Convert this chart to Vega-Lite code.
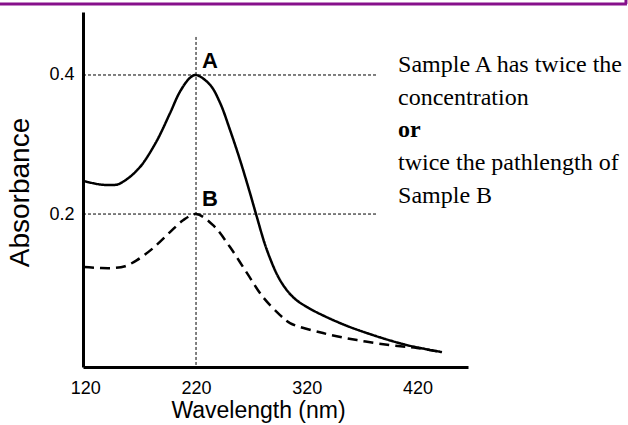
{
  "$schema": "https://vega.github.io/schema/vega-lite/v6.json",
  "width": 385,
  "height": 355,
  "autosize": "none",
  "padding": {"left": 83, "top": 12, "right": 160, "bottom": 58},
  "background": "white",
  "config": {"view": {"stroke": null}},
  "datasets": {
    "curves": [
      {"x": 118.8, "y": 0.2475, "s": "A"}, {"x": 133.3, "y": 0.2425, "s": "A"}, {"x": 144.1, "y": 0.2417, "s": "A"},
      {"x": 149.5, "y": 0.2427, "s": "A"}, {"x": 155.0, "y": 0.2474, "s": "A"}, {"x": 160.4, "y": 0.2536, "s": "A"},
      {"x": 166.7, "y": 0.263, "s": "A"}, {"x": 172.1, "y": 0.273, "s": "A"},
      {"x": 184.8, "y": 0.306, "s": "A"}, {"x": 196.5, "y": 0.345, "s": "A"}, {"x": 205.5, "y": 0.376, "s": "A"},
      {"x": 214.6, "y": 0.396, "s": "A"}, {"x": 220, "y": 0.4, "s": "A"}, {"x": 232.6, "y": 0.386, "s": "A"},
      {"x": 241.7, "y": 0.36, "s": "A"}, {"x": 250.7, "y": 0.321, "s": "A"}, {"x": 259.7, "y": 0.278, "s": "A"},
      {"x": 268.8, "y": 0.23, "s": "A"}, {"x": 274.2, "y": 0.2, "s": "A"}, {"x": 284.1, "y": 0.148, "s": "A"},
      {"x": 295.9, "y": 0.105, "s": "A"}, {"x": 307.6, "y": 0.0806, "s": "A"}, {"x": 320.3, "y": 0.0662, "s": "A"},
      {"x": 350.1, "y": 0.0432, "s": "A"}, {"x": 379.9, "y": 0.0259, "s": "A"}, {"x": 410.6, "y": 0.0115, "s": "A"},
      {"x": 442.2, "y": 0.0014, "s": "A"},
      {"x": 118.8, "y": 0.1237, "s": "B"}, {"x": 133.3, "y": 0.1223, "s": "B"}, {"x": 145.0, "y": 0.1223, "s": "B"},
      {"x": 155.9, "y": 0.125, "s": "B"}, {"x": 166.7, "y": 0.1338, "s": "B"}, {"x": 181.2, "y": 0.151, "s": "B"},
      {"x": 196.5, "y": 0.174, "s": "B"}, {"x": 208.3, "y": 0.191, "s": "B"}, {"x": 220, "y": 0.2, "s": "B"},
      {"x": 235.4, "y": 0.184, "s": "B"}, {"x": 250.7, "y": 0.1525, "s": "B"}, {"x": 266.1, "y": 0.115, "s": "B"},
      {"x": 280.5, "y": 0.0806, "s": "B"}, {"x": 295.9, "y": 0.0547, "s": "B"}, {"x": 304.9, "y": 0.0432, "s": "B"},
      {"x": 334.7, "y": 0.0288, "s": "B"}, {"x": 365.4, "y": 0.0187, "s": "B"}, {"x": 395.2, "y": 0.0115, "s": "B"},
      {"x": 419.6, "y": 0.0072, "s": "B"}, {"x": 442.2, "y": 0.0014, "s": "B"}
    ],
    "guides": [
      {"x": 117.9, "x2": 384.4, "y": 0.4, "y2": 0.4},
      {"x": 117.9, "x2": 384.4, "y": 0.2, "y2": 0.2},
      {"x": 220, "x2": 220, "y": 0.4547, "y2": -0.02}
    ],
    "frame": [
      {"x": 42.9, "x2": 609.3, "y": 0.5022, "y2": 0.5022},
      {"x": 608.4, "x2": 608.4, "y": 0.5022, "y2": 0.515}
    ],
    "peaks": [
      {"x": 225.4, "y": 0.41, "t": "A"},
      {"x": 225.4, "y": 0.2115, "t": "B"}
    ],
    "note": [
      {"x": 402.5, "y": 0.4043, "t": "Sample A has twice the"},
      {"x": 402.5, "y": 0.3568, "t": "concentration"},
      {"x": 402.5, "y": 0.2633, "t": "twice the pathlength of"},
      {"x": 402.5, "y": 0.2158, "t": "Sample B"}
    ],
    "noteBold": [
      {"x": 402.5, "y": 0.3108, "t": "or"}
    ]
  },
  "encoding": {
    "x": {
      "field": "x", "type": "quantitative",
      "scale": {"domain": [117.9, 465.7], "nice": false, "zero": false},
      "axis": {
        "values": [120, 220, 320, 420], "ticks": false, "tickSize": 0, "grid": false,
        "domainWidth": 3, "domainColor": "black",
        "labelFont": "Liberation Sans", "labelFontSize": 18, "labelColor": "black",
        "labelPadding": 21, "labelBaseline": "middle", "labelFlush": false, "labelOverlap": false,
        "title": "Wavelength (nm)", "titleFont": "Liberation Sans", "titleFontSize": 23,
        "titleFontWeight": "normal", "titleColor": "black", "titleX": 175, "titleY": 43,
        "titleBaseline": "middle", "titleAlign": "center"
      }
    },
    "y": {
      "field": "y", "type": "quantitative",
      "scale": {"domain": [-0.02, 0.4906], "nice": false, "zero": false},
      "axis": {
        "values": [0.2, 0.4], "format": ".1f", "ticks": false, "tickSize": 0, "grid": false,
        "domainWidth": 3, "domainColor": "black",
        "labelFont": "Liberation Sans", "labelFontSize": 18, "labelColor": "black",
        "labelPadding": 9, "labelBaseline": "middle", "labelFlush": false, "labelOverlap": false,
        "title": "Absorbance", "titleFont": "Liberation Sans", "titleFontSize": 28,
        "titleFontWeight": "normal", "titleColor": "black", "titleAngle": 270,
        "titleX": -63, "titleY": 180, "titleBaseline": "middle", "titleAlign": "center"
      }
    }
  },
  "layer": [
    {
      "data": {"name": "guides"},
      "mark": {"type": "rule", "color": "black", "strokeWidth": 1, "strokeDash": [3, 2]},
      "encoding": {"x2": {"field": "x2"}, "y2": {"field": "y2"}}
    },
    {
      "data": {"name": "curves"},
      "mark": {"type": "line", "color": "black", "strokeWidth": 2.5, "interpolate": "catmull-rom"},
      "encoding": {
        "detail": {"field": "s"},
        "strokeDash": {"field": "s", "type": "nominal", "scale": {"domain": ["A", "B"], "range": [[1, 0], [10, 6]]}, "legend": null}
      }
    },
    {
      "data": {"name": "frame"},
      "mark": {"type": "rule", "color": "#87108b", "strokeWidth": 3},
      "encoding": {"x2": {"field": "x2"}, "y2": {"field": "y2"}}
    },
    {
      "data": {"name": "peaks"},
      "mark": {"type": "text", "font": "Liberation Sans", "fontSize": 22, "fontWeight": "bold", "align": "left", "baseline": "alphabetic", "color": "black"},
      "encoding": {"text": {"field": "t"}}
    },
    {
      "data": {"name": "note"},
      "mark": {"type": "text", "font": "Liberation Serif", "fontSize": 24, "align": "left", "baseline": "alphabetic", "color": "black"},
      "encoding": {"text": {"field": "t"}}
    },
    {
      "data": {"name": "noteBold"},
      "mark": {"type": "text", "font": "Liberation Serif", "fontSize": 24, "fontWeight": "bold", "align": "left", "baseline": "alphabetic", "color": "black"},
      "encoding": {"text": {"field": "t"}}
    }
  ]
}
